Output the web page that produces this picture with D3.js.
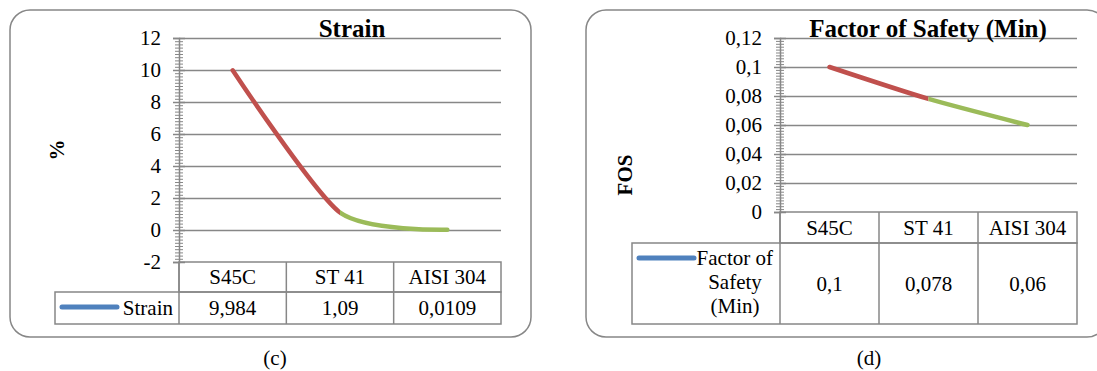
<!DOCTYPE html>
<html>
<head>
<meta charset="utf-8">
<script src="https://cdn.jsdelivr.net/npm/d3@7"></script>
<style>
  body { margin: 0; background: #fff; }
  svg { display: block; font-family: "Liberation Serif", "Times New Roman", serif; }
</style>
</head>
<body>
<div id="chart"></div>
<script>
// data
var categories = ["S45C", "ST 41", "AISI 304"];

var strainValues = [9.984, 1.09, 0.0109];
var strainLabels = ["9,984", "1,09", "0,0109"];
var strainTicks = [-2, 0, 2, 4, 6, 8, 10, 12];
var strainTickLabels = ["-2", "0", "2", "4", "6", "8", "10", "12"];

var fosValues = [0.1, 0.078, 0.06];
var fosLabels = ["0,1", "0,078", "0,06"];
var fosTicks = [0, 0.02, 0.04, 0.06, 0.08, 0.1, 0.12];
var fosTickLabels = ["0", "0,02", "0,04", "0,06", "0,08", "0,1", "0,12"];

var GRID = "#878787";
var SEG_COLORS = ["#C0504D", "#9BBB59"];
var LEGEND_COLOR = "#4F81BD";

var svg = d3.select("#chart").append("svg")
    .attr("width", 1097)
    .attr("height", 371);

function drawChart(cfg) {
    var g = svg.append("g");

    g.append("rect")
        .attr("x", cfg.box.x).attr("y", cfg.box.y)
        .attr("width", cfg.box.w).attr("height", cfg.box.h)
        .attr("rx", 20).attr("ry", 20)
        .style("fill", "#fff")
        .style("stroke", GRID)
        .style("stroke-width", 1.5);

    var x = d3.scaleBand().domain(categories).range([cfg.left, cfg.right]);
    var y = d3.scaleLinear().domain(cfg.domain).range([cfg.bottom, cfg.top]);
    var cx = function(c) { return x(c) + x.bandwidth() / 2; };

    // gridlines
    g.append("g")
        .attr("transform", "translate(" + cfg.left + ",0)")
        .call(d3.axisLeft(y).tickValues(cfg.ticks.filter(function(t) { return t > cfg.domain[0]; }))
            .tickSize(-(cfg.right - cfg.left)).tickFormat(""))
        .call(function(a) {
            a.select(".domain").remove();
            a.selectAll("line").style("stroke", GRID).style("stroke-width", 1.5);
        });

    // minor ticks (cross)
    var minor = d3.range(0, cfg.minorCount + 1).map(function(i) {
        return cfg.domain[0] + i * (cfg.domain[1] - cfg.domain[0]) / cfg.minorCount;
    });
    [d3.axisLeft, d3.axisRight].forEach(function(ax) {
        g.append("g")
            .attr("transform", "translate(" + cfg.left + ",0)")
            .call(ax(y).tickValues(minor).tickSize(4).tickFormat(""))
            .call(function(a) {
                a.select(".domain").remove();
                a.selectAll("line").style("stroke", GRID).style("stroke-width", 1);
            });
    });

    // major ticks and labels
    g.append("g")
        .attr("transform", "translate(" + cfg.left + ",0)")
        .call(d3.axisRight(y).tickValues(cfg.ticks).tickSize(6).tickFormat(""))
        .call(function(a) {
            a.select(".domain").remove();
            a.selectAll("line").style("stroke", GRID).style("stroke-width", 1.5);
        });
    g.append("g")
        .attr("transform", "translate(" + cfg.left + ",0)")
        .call(d3.axisLeft(y).tickValues(cfg.ticks).tickSize(6).tickPadding(12)
            .tickFormat(function(d, i) { return cfg.tickLabels[i]; }))
        .call(function(a) {
            a.attr("font-family", null);
            a.select(".domain").style("stroke", GRID).style("stroke-width", 1.5);
            a.selectAll("line").style("stroke", GRID).style("stroke-width", 1.5);
            a.selectAll("text")
                .style("font-family", "'Liberation Serif', serif")
                .style("font-size", "21px")
                .style("fill", "#000");
        });

    // data table
    var t = g.append("g").style("stroke", GRID).style("stroke-width", 1.5).style("fill", "none");
    var rowTop = cfg.bottom, rowMid = cfg.catBottom, rowBot = cfg.tableBottom;
    t.append("rect").attr("x", cfg.left).attr("y", rowTop)
        .attr("width", cfg.right - cfg.left).attr("height", rowMid - rowTop);
    t.append("rect").attr("x", cfg.legendLeft).attr("y", rowMid)
        .attr("width", cfg.right - cfg.legendLeft).attr("height", rowBot - rowMid);
    t.selectAll("line.col").data(categories).enter().append("line")
        .attr("x1", function(d) { return x(d); }).attr("x2", function(d) { return x(d); })
        .attr("y1", rowTop).attr("y2", rowBot);

    g.selectAll("text.cat").data(categories).enter().append("text")
        .attr("x", cx).attr("y", (rowTop + rowMid) / 2).attr("dy", "0.35em")
        .attr("text-anchor", "middle").style("font-size", "21px")
        .text(function(d) { return d; });
    g.selectAll("text.val").data(cfg.valueLabels).enter().append("text")
        .attr("x", function(d, i) { return cx(categories[i]); })
        .attr("y", (rowMid + rowBot) / 2).attr("dy", "0.35em")
        .attr("text-anchor", "middle").style("font-size", "21px")
        .text(function(d) { return d; });

    // legend key
    g.append("line")
        .attr("x1", cfg.legendLeft + 7).attr("x2", cfg.legendLeft + 62)
        .attr("y1", cfg.keyY).attr("y2", cfg.keyY)
        .style("stroke", LEGEND_COLOR).style("stroke-width", 5).style("stroke-linecap", "round");
    cfg.seriesName.forEach(function(s) {
        g.append("text").attr("x", s.x).attr("y", s.y)
            .attr("text-anchor", s.anchor).style("font-size", "21px").text(s.text);
    });

    // smoothed line, coloured per segment
    var pts = cfg.values.map(function(v, i) { return [cx(categories[i]), y(v)]; });
    var line = d3.line().curve(d3.curveCardinal.tension(0.3));
    for (var i = 0; i < pts.length - 1; i++) {
        var id = cfg.id + "-clip" + i;
        g.append("clipPath").attr("id", id).append("rect")
            .attr("x", i === 0 ? cfg.left : pts[i][0]).attr("y", 0)
            .attr("width", i === 0 ? pts[1][0] - cfg.left : cfg.right - pts[i][0])
            .attr("height", 371);
        g.append("path")
            .attr("d", line(pts))
            .attr("clip-path", "url(#" + id + ")")
            .style("fill", "none")
            .style("stroke", SEG_COLORS[i])
            .style("stroke-width", 4.5)
            .style("stroke-linecap", "round");
    }

    // titles
    g.append("text").attr("x", cfg.titleX).attr("y", 37)
        .attr("text-anchor", "middle").style("font-size", "25px").style("font-weight", "bold")
        .text(cfg.title);
    g.append("text")
        .attr("transform", "translate(" + cfg.axisTitleX + "," + cfg.axisTitleY + ") rotate(-90)")
        .attr("text-anchor", "middle").attr("dy", "0.35em")
        .style("font-size", "21px").style("font-weight", "bold")
        .text(cfg.axisTitle);
    g.append("text").attr("x", cfg.captionX).attr("y", 365)
        .attr("text-anchor", "middle").style("font-size", "21px")
        .text(cfg.caption);
}

drawChart({
    id: "strain",
    box: {x: 10, y: 10, w: 521, h: 327},
    left: 179, right: 501, top: 38, bottom: 262,
    catBottom: 292, tableBottom: 324, legendLeft: 55,
    domain: [-2, 12], ticks: strainTicks, tickLabels: strainTickLabels, minorCount: 70,
    values: strainValues, valueLabels: strainLabels,
    keyY: 307,
    seriesName: [{text: "Strain", x: 173, y: 315, anchor: "end"}],
    title: "Strain", titleX: 352,
    axisTitle: "%", axisTitleX: 57, axisTitleY: 150,
    caption: "(c)", captionX: 275
});

drawChart({
    id: "fos",
    box: {x: 586, y: 10, w: 521, h: 327},
    left: 780, right: 1077, top: 38, bottom: 212,
    catBottom: 243, tableBottom: 324, legendLeft: 632,
    domain: [0, 0.12], ticks: fosTicks, tickLabels: fosTickLabels, minorCount: 60,
    values: fosValues, valueLabels: fosLabels,
    keyY: 258,
    seriesName: [
        {text: "Factor of", x: 773, y: 265, anchor: "end"},
        {text: "Safety", x: 735, y: 289, anchor: "middle"},
        {text: "(Min)", x: 735, y: 313, anchor: "middle"}
    ],
    title: "Factor of Safety (Min)", titleX: 928,
    axisTitle: "FOS", axisTitleX: 625, axisTitleY: 175,
    caption: "(d)", captionX: 869
});
</script>
</body>
</html>
